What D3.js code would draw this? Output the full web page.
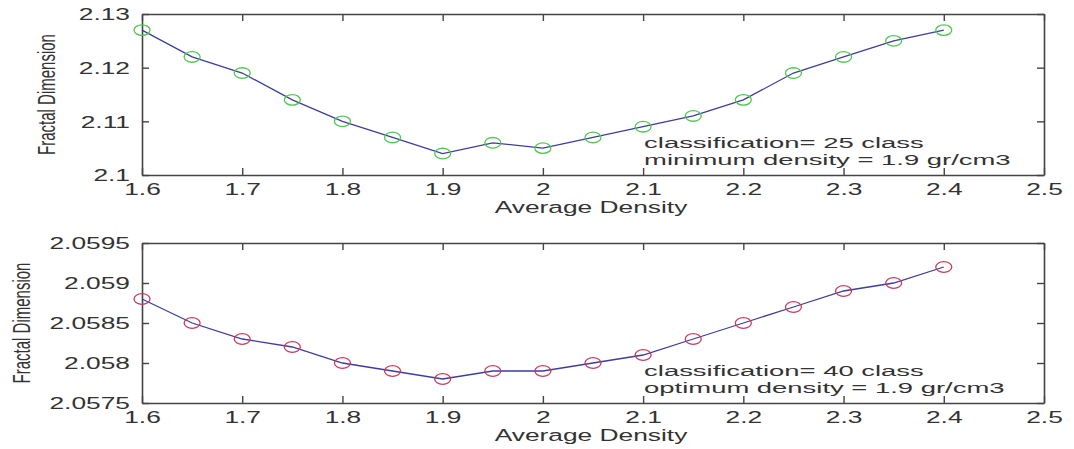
<!DOCTYPE html>
<html>
<head>
<meta charset="utf-8">
<script src="https://cdn.jsdelivr.net/npm/d3@7"></script>
<style>
  html, body { margin: 0; padding: 0; background: #fff; }
  svg { display: block; }
  text { font-family: "Liberation Sans", Arial, sans-serif; fill: #333; }
</style>
</head>
<body>
<svg id="chart" width="1074" height="449"></svg>
<script>
// Average density (x) shared by both panels
const density = [1.6, 1.65, 1.7, 1.75, 1.8, 1.85, 1.9, 1.95, 2.0, 2.05, 2.1, 2.15, 2.2, 2.25, 2.3, 2.35, 2.4];

// Fractal dimension, 25-class classification
const fd25 = [2.127, 2.122, 2.119, 2.114, 2.110, 2.107, 2.104, 2.106, 2.105, 2.107, 2.109, 2.111, 2.114, 2.119, 2.122, 2.125, 2.127];

// Fractal dimension, 40-class classification
const fd40 = [2.0588, 2.0585, 2.0583, 2.0582, 2.0580, 2.0579, 2.0578, 2.0579, 2.0579, 2.0580, 2.0581, 2.0583, 2.0585, 2.0587, 2.0589, 2.0590, 2.0592];

// Axis ticks and their labels
const xTicks = [1.6, 1.7, 1.8, 1.9, 2.0, 2.1, 2.2, 2.3, 2.4, 2.5];
const xTickLabels = ["1.6", "1.7", "1.8", "1.9", "2", "2.1", "2.2", "2.3", "2.4", "2.5"];
const yTicksTop = [2.1, 2.11, 2.12, 2.13];
const yTickLabelsTop = ["2.1", "2.11", "2.12", "2.13"];
const yTicksBottom = [2.0575, 2.058, 2.0585, 2.059, 2.0595];
const yTickLabelsBottom = ["2.0575", "2.058", "2.0585", "2.059", "2.0595"];

// Annotation lines
const notesTop = ["classification= 25 class", "minimum density = 1.9 gr/cm3"];
const notesBottom = ["classification= 40 class", "optimum density = 1.9 gr/cm3"];

const svg = d3.select("#chart");
const SX = 1.55;          // horizontal glyph stretch
const FS = 17;            // font size
const NOTE_FS = 15.5;     // annotation font size
const NOTE_SX = 1.77;     // annotation horizontal stretch
const TICK = 7;           // inward tick length

function panel(opts) {
  const { top, bottom, yDomain, yTicks, yLabels, values, markerColor, notes, yLabelX } = opts;
  const left = 142, right = 1044;

  const x = d3.scaleLinear().domain([1.6, 2.5]).range([left, right]);
  const y = d3.scaleLinear().domain(yDomain).range([bottom, top]);

  const g = svg.append("g");

  const styleAxis = sel => {
    sel.select(".domain").attr("stroke", "#444").attr("stroke-width", 1.6);
    sel.selectAll(".tick line").attr("stroke", "#444").attr("stroke-width", 1.4);
  };

  // frame: top and right axes (ticks only)
  g.append("g").attr("transform", `translate(0,${top})`)
    .call(d3.axisTop(x).tickValues(xTicks).tickSize(-TICK).tickSizeOuter(0).tickFormat(""))
    .call(styleAxis);
  g.append("g").attr("transform", `translate(${right},0)`)
    .call(d3.axisRight(y).tickValues(yTicks).tickSize(-TICK).tickSizeOuter(0).tickFormat(""))
    .call(styleAxis);

  // bottom axis with labels
  const xAxis = g.append("g").attr("transform", `translate(0,${bottom})`)
    .call(d3.axisBottom(x).tickValues(xTicks).tickSize(-TICK).tickSizeOuter(0)
      .tickFormat((d, i) => xTickLabels[i]))
    .call(styleAxis);
  xAxis.selectAll("text")
    .attr("y", 8).attr("dy", "0.71em")
    .attr("font-size", FS).style("fill", "#333")
    .attr("font-family", '"Liberation Sans", Arial, sans-serif')
    .attr("transform", `scale(${SX},1)`);

  // left axis with labels
  const yAxis = g.append("g").attr("transform", `translate(${left},0)`)
    .call(d3.axisLeft(y).tickValues(yTicks).tickSize(-TICK).tickSizeOuter(0)
      .tickFormat((d, i) => yLabels[i]))
    .call(styleAxis);
  yAxis.selectAll("text")
    .attr("x", -12 / SX).attr("dy", "0.35em")
    .attr("font-size", FS).style("fill", "#333")
    .attr("font-family", '"Liberation Sans", Arial, sans-serif')
    .attr("transform", `scale(${SX},1)`);

  // x label
  g.append("text")
    .attr("transform", `translate(${(left + right) / 2 - 2},${bottom + 38}) scale(${SX},1)`)
    .attr("text-anchor", "middle")
    .attr("font-size", FS)
    .text("Average Density");

  // y label
  g.append("text")
    .attr("transform", `translate(${yLabelX},${(top + bottom) / 2}) rotate(-90) scale(1,${SX})`)
    .attr("text-anchor", "middle")
    .attr("font-size", 15)
    .text("Fractal Dimension");

  // series line
  const line = d3.line().x((d, i) => x(density[i])).y(d => y(d));
  g.append("path").datum(values)
    .attr("d", line)
    .attr("fill", "none")
    .attr("stroke", "#3d3d9c")
    .attr("stroke-width", 1.3);

  // circle markers (stretched like the text)
  g.selectAll("ellipse.m").data(values).enter().append("ellipse")
    .attr("cx", (d, i) => x(density[i]))
    .attr("cy", d => y(d))
    .attr("rx", 8).attr("ry", 5.3)
    .attr("fill", "none")
    .attr("stroke", markerColor)
    .attr("stroke-width", 1.3);

  // annotation
  notes.forEach((t, i) => {
    g.append("text")
      .attr("transform", `translate(${x(2.1) + 1},${bottom - 27.5 + i * 17.5}) scale(${NOTE_SX},1)`)
      .attr("font-size", NOTE_FS)
      .text(t);
  });
}

panel({
  top: 14, bottom: 175,
  yDomain: [2.1, 2.13], yTicks: yTicksTop, yLabels: yTickLabelsTop,
  values: fd25, markerColor: "#4cc84c", notes: notesTop, yLabelX: 55
});

panel({
  top: 243, bottom: 403,
  yDomain: [2.0575, 2.0595], yTicks: yTicksBottom, yLabels: yTickLabelsBottom,
  values: fd40, markerColor: "#c83a5a", notes: notesBottom, yLabelX: 30
});
</script>
</body>
</html>
